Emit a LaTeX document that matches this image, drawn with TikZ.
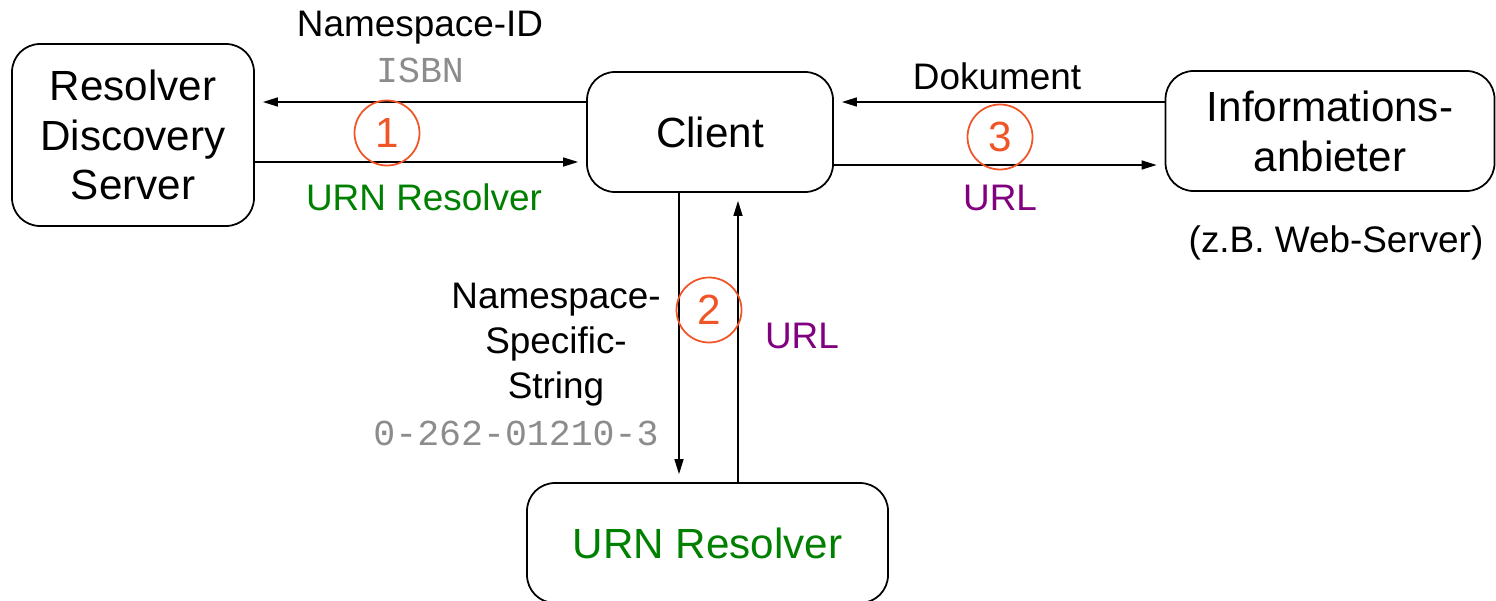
\documentclass[tikz,border=0pt]{standalone}
\usepackage{fontspec}
\setmainfont{Liberation Sans}
\setmonofont{Liberation Mono}
\usetikzlibrary{arrows.meta,positioning,calc}
\definecolor{urngreen}{RGB}{0,128,0}
\definecolor{urlpurple}{RGB}{128,0,128}
\definecolor{stepred}{RGB}{240,85,40}
\definecolor{codegray}{RGB}{140,140,140}
\tikzset{
  box/.style={draw, rounded corners=2.8mm, line width=0.5pt, align=center, inner sep=0pt,
              font=\fontsize{12}{14.2}\selectfont},
  arrow/.style={-{Triangle[length=1.5mm,width=0.9mm]}, line width=0.4pt, shorten >=0.8mm},
  stepmark/.style={draw=stepred, text=stepred, circle, line width=0.5pt, minimum size=6.5mm,
                   inner sep=0pt, font=\fontsize{12}{14}\selectfont},
  msgtext/.style={font=\fontsize{10.5}{12.8}\selectfont, align=center, anchor=base, inner sep=0pt},
  codetext/.style={font=\ttfamily\fontsize{10.4}{12}\selectfont, text=codegray, anchor=base, inner sep=0pt},
}

\begin{document}
\begin{tikzpicture}
\clip (0,0) rectangle (14.96,6);

% ================= boxes =================
\node[box, minimum width=24.2mm, minimum height=18.2mm] (rds) at (1.33,4.65)
  {Resolver\\Discovery\\Server};
\node[box, minimum width=24.6mm, minimum height=12mm] (client) at (7.10,4.68) {Client};
\node[box, minimum width=32.9mm, minimum height=12mm] (info) at (13.30,4.69)
  {Informations-\\anbieter};
\node[box, minimum width=36.1mm, minimum height=12mm, text=urngreen] (urn) at (7.075,0.57)
  {URN Resolver};

% ================= (1) resolver discovery =================
\coordinate (c1) at ([yshift=3mm]client.west);
\coordinate (r1) at ([yshift=-2.7mm]rds.east);
\draw[arrow] (c1) -- (c1 -| rds.east);
\draw[arrow] (r1) -- (r1 -| client.west);
\node[stepmark] (n1) at (3.87,4.67) {1};
\node[msgtext] (nsid) at (4.20,5.63) {Namespace-ID};
\node[codetext] (isbn) at (4.20,5.18) {ISBN};
\node[msgtext, text=urngreen] (urnlbl) at (4.24,3.90) {URN Resolver};

% ================= (2) resolution =================
\coordinate (c2) at ([xshift=-3.1mm]client.south);
\coordinate (u2) at ([xshift=3.05mm]urn.north);
\draw[arrow] (c2) -- (c2 |- urn.north);
\draw[arrow] (u2) -- (u2 |- client.south);
\node[stepmark] (n2) at (7.09,2.90) {2};
\node[msgtext, anchor=center] (nss) at (5.56,2.55) {Namespace-\\Specific-\\String};
\node[codetext] (nssval) at (5.16,1.55) {0-262-01210-3};
\node[msgtext, text=urlpurple] (url2) at (8.02,2.52) {URL};

% ================= (3) retrieval =================
\coordinate (i3) at ([yshift=2.9mm]info.west);
\coordinate (c3) at ([yshift=-3.3mm]client.east);
\draw[arrow] (i3) -- (i3 -| client.east);
\draw[arrow] (c3) -- (c3 -| info.west);
\node[stepmark] (n3) at (10.00,4.63) {3};
\node[msgtext] (doc) at (9.97,5.10) {Dokument};
\node[msgtext, text=urlpurple] (url3) at (10.00,3.90) {URL};
\node[msgtext, font=\fontsize{10.5}{12}\selectfont] (web) at (13.36,3.48) {(z.B. Web-Server)};
\end{tikzpicture}
\end{document}
